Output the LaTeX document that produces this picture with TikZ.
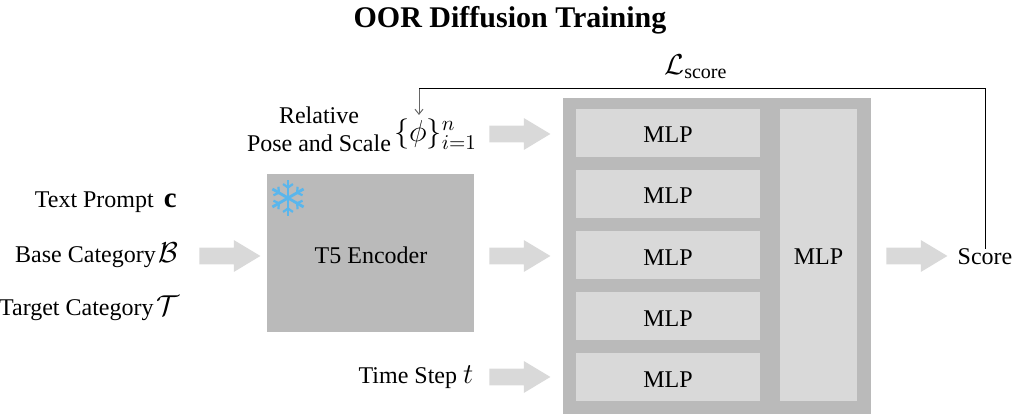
\documentclass[tikz,border=0pt]{standalone}
\usepackage{fontspec}
\setmainfont{Liberation Serif}
\usetikzlibrary{shapes.arrows,arrows.meta}
\tikzset{>=stealth}
\definecolor{boxdark}{HTML}{BABABA}
\definecolor{boxlight}{HTML}{D9D9D9}
\definecolor{iceblue}{HTML}{5AB6EC}
\newcommand{\mathbig}[1]{{\fontsize{14.4}{17}\selectfont$#1$}}
\tikzset{
  every node/.style={font=\fontsize{12}{14}\selectfont,inner sep=0pt},
  darkbox/.style={fill=boxdark},
  mlpbox/.style={fill=boxlight,minimum width=92pt,minimum height=24pt,text height=9.7pt,text depth=0pt},
  blockarrow/.style={single arrow,fill=boxlight,minimum height=30.5pt,
    inner ysep=4pt,single arrow head extend=3.75pt,
    single arrow tip angle=62,anchor=west},
}

\begin{document}
\begin{tikzpicture}[x=.5pt,y=-.5pt]
\useasboundingbox (0,0) rectangle (1013,415);
\node[font=\fontsize{15}{17}\selectfont\bfseries] (title) at (510,20) {OOR Diffusion Training};

% inputs on the left
\node[anchor=east] (prompt) at (177,202) {Text Prompt\hspace{5pt}\mathbig{\mathbf{c}}};
\node[anchor=east] (base) at (179,255) {Base Category\hspace{1.5pt}\mathbig{\mathcal{B}}};
\node[anchor=east] (target) at (180,308) {Target Category\hspace{1.5pt}\mathbig{\mathcal{T}}};

% encoder
\node[darkbox,minimum width=103.5pt,minimum height=79pt] (encoder) at (370.5,253) {};
\node (encodertext) at (371,255) {T5 Encoder};
\foreach \a in {90,150,...,420}{
  \draw[iceblue,line width=1.4pt] (288,198) -- +(\a:18);
  \draw[iceblue,line width=1.1pt] (288,198) ++(\a:10.5) -- +(\a+55:6);
  \draw[iceblue,line width=1.1pt] (288,198) ++(\a:10.5) -- +(\a-55:6);
}

% network
\node[darkbox,minimum width=154pt,minimum height=158pt] (net) at (717,256) {};
\foreach \i/\y in {1/133,2/194,3/255.5,4/316.5,5/377.5}{
  \node[mlpbox] (mlp\i) at (668,\y) {MLP};
}
\node[mlpbox,minimum width=38.5pt,minimum height=146pt] (mlpright) at (818.5,255) {MLP};

% other inputs
\node[align=center] (pose) at (319,129) {Relative\\Pose and Scale};
\node[scale=1.05] (phi) at (435.5,134) {\mathbig{\{\phi\}_{i=1}^{n}}};
\node (timestep) at (416,377) {Time Step \mathbig{t}};
\node (score) at (985,257) {Score};

% block arrows
\node[blockarrow] (arrowpose) at (489,134) {};
\node[blockarrow] (arrowin) at (199,256) {};
\node[blockarrow] (arrowenc) at (489,256) {};
\node[blockarrow] (arrowtime) at (489,377) {};
\node[blockarrow] (arrowout) at (886,256) {};

% loss
\node (loss) at (696,67) {\mathbig{\mathcal{L}_{\mathrm{score}}}};
\coordinate (losstop) at (695,89);
\coordinate (phitip) at (419,115);
\draw[line width=.5pt] (score.north) -- (score.north |- losstop)
  -- (phitip |- losstop);
\draw[-{Straight Barb[length=2.5pt,width=4pt]},line width=.5pt,black!60] (phitip |- losstop) -- (phitip);
\end{tikzpicture}
\end{document}
